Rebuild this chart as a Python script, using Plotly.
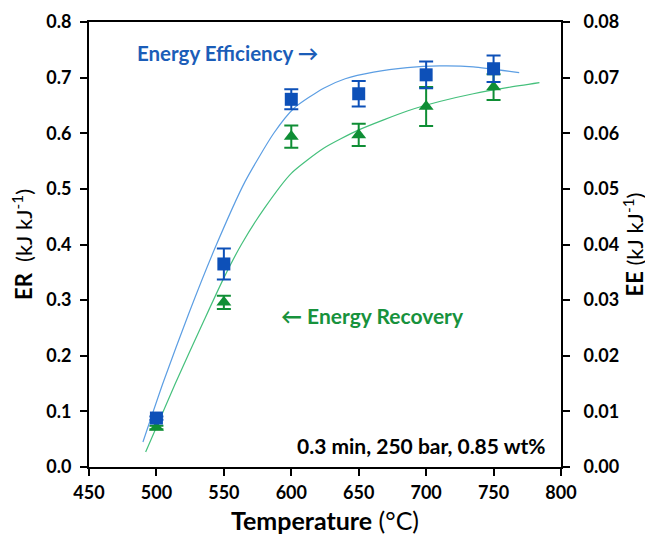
import plotly.graph_objects as go

# Measured data
temperature = [500, 550, 600, 650, 700, 750]
ee_values = [0.0088, 0.0365, 0.0661, 0.0671, 0.0705, 0.0716]      # Energy efficiency (right axis)
ee_errors = [0.0003, 0.0028, 0.0018, 0.0023, 0.0024, 0.0024]
er_values = [0.071, 0.296, 0.594, 0.597, 0.648, 0.683]             # Energy recovery (left axis)
er_errors = [0.003, 0.012, 0.020, 0.020, 0.035, 0.023]

# Trend lines
ee_fit_t = [490, 505, 524, 543.5, 565.7, 587, 602, 624, 640, 661, 686, 710, 735, 769]
ee_fit_v = [0.0045, 0.0152, 0.0276, 0.0394, 0.0513, 0.0600, 0.0645, 0.0681, 0.0698,
            0.0710, 0.0718, 0.0721, 0.07195, 0.0709]
er_fit_t = [492, 514, 535, 550, 563, 580, 600, 624, 650, 686, 710, 735, 760, 784]
er_fit_v = [0.027, 0.150, 0.262, 0.340, 0.400, 0.465, 0.528, 0.573, 0.606, 0.640,
            0.657, 0.671, 0.682, 0.691]

x_ticks = [450, 500, 550, 600, 650, 700, 750, 800]
er_ticks = [0.0, 0.1, 0.2, 0.3, 0.4, 0.5, 0.6, 0.7, 0.8]
ee_ticks = [0.00, 0.01, 0.02, 0.03, 0.04, 0.05, 0.06, 0.07, 0.08]

BLUE = "#0D50B8"
GREEN = "#0F8E35"
BLUE_LINE = "#5C9EE3"
GREEN_LINE = "#45C07C"
FONT = "Lato"

fig = go.Figure()

fig.add_trace(go.Scatter(x=er_fit_t, y=er_fit_v, mode="lines",
                         line=dict(color=GREEN_LINE, width=1.2, shape="spline", smoothing=0.6),
                         yaxis="y", showlegend=False, hoverinfo="skip"))
fig.add_trace(go.Scatter(x=ee_fit_t, y=ee_fit_v, mode="lines",
                         line=dict(color=BLUE_LINE, width=1.2, shape="spline", smoothing=0.6),
                         yaxis="y2", showlegend=False, hoverinfo="skip"))

fig.add_trace(go.Scatter(x=temperature, y=er_values, mode="markers",
                         marker=dict(symbol="triangle-up", size=13, color=GREEN),
                         error_y=dict(type="data", array=er_errors, color=GREEN, thickness=2, width=7),
                         yaxis="y", showlegend=False))
fig.add_trace(go.Scatter(x=temperature, y=ee_values, mode="markers",
                         marker=dict(symbol="square", size=13, color=BLUE),
                         error_y=dict(type="data", array=ee_errors, color=BLUE, thickness=2, width=7),
                         yaxis="y2", showlegend=False))

axis_common = dict(showgrid=False, zeroline=False, showline=True, linecolor="black", linewidth=2,
                   ticks="outside", ticklen=7, tickwidth=2, tickcolor="black", automargin=False,
                   tickfont=dict(family=FONT, size=18, color="black", weight="bold"))

# The page adds an 8px body margin, so the figure is 8px smaller than the window.
fig.update_layout(
    width=645, height=533,
    margin=dict(l=81, r=92, t=14, b=74),
    paper_bgcolor="white", plot_bgcolor="white",
    font=dict(family=FONT, color="black"),
    xaxis=dict(range=[450, 800], tickvals=x_ticks, ticktext=[str(v) for v in x_ticks], mirror=True,
               ticklabelstandoff=1,
               title=dict(text="<b>Temperature</b> (°C)", font=dict(family=FONT, size=25, color="black"), standoff=11),
               **axis_common),
    yaxis=dict(range=[0, 0.8], tickvals=er_ticks, ticktext=[f"{v:.1f}" for v in er_ticks],
               ticklabelstandoff=5,
               title=dict(text="<b>ER</b>  (kJ kJ<sup>-1</sup>)", font=dict(family=FONT, size=22, color="black"), standoff=11),
               **axis_common),
    yaxis2=dict(range=[0, 0.08], tickvals=ee_ticks, ticktext=[f"{v:.2f}" for v in ee_ticks],
                overlaying="y", side="right", ticklabelstandoff=10,
                title=dict(text="<b>EE</b> (kJ kJ<sup>-1</sup>)", font=dict(family=FONT, size=22, color="black"), standoff=8),
                **axis_common),
    annotations=[
        dict(text="<b>Energy Efficiency →</b>", x=553, y=0.744, xref="x", yref="y", xanchor="center", yanchor="middle",
             showarrow=False, font=dict(family=FONT, size=20.5, color="#1B5DB8")),
        dict(text="<b>← Energy Recovery</b>", x=660, y=0.273, xref="x", yref="y", xanchor="center", yanchor="middle",
             showarrow=False, font=dict(family=FONT, size=21, color="#17923C")),
        dict(text="<b>0.3 min, 250 bar, 0.85 wt%</b>", x=790, y=0.038, xref="x", yref="y", xanchor="right", yanchor="middle",
             showarrow=False, font=dict(family=FONT, size=21, color="black")),
    ],
)

fig.write_html("out.html")
